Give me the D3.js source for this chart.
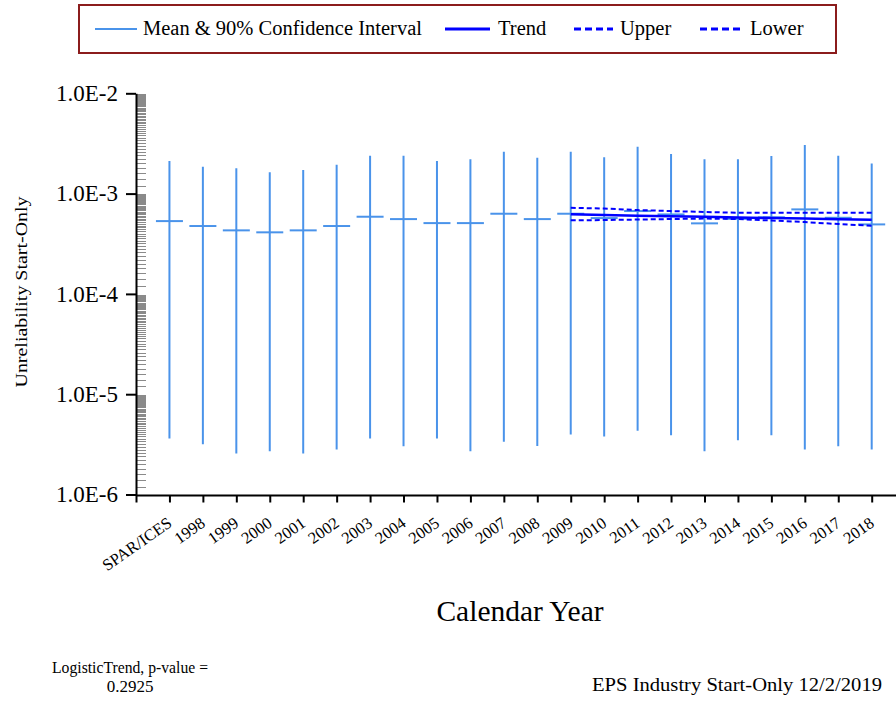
<!DOCTYPE html>
<html>
<head>
<meta charset="utf-8">
<script src="https://cdn.jsdelivr.net/npm/d3@7"></script>
<style>
  body { margin: 0; background: #fff; }
  svg { display: block; }
</style>
</head>
<body>
<div class="container"></div>
<script>
// values
const categories = ["SPAR/ICES", "1998", "1999", "2000", "2001", "2002", "2003", "2004", "2005", "2006", "2007",
                    "2008", "2009", "2010", "2011", "2012", "2013", "2014", "2015", "2016", "2017", "2018"];
const meanVals  = [5.32e-4, 4.75e-4, 4.30e-4, 4.11e-4, 4.30e-4, 4.75e-4, 5.88e-4, 5.57e-4, 5.08e-4, 5.08e-4, 6.30e-4,
                   5.57e-4, 6.30e-4, 5.70e-4, 6.70e-4, 6.20e-4, 5.05e-4, 5.60e-4, 5.80e-4, 6.96e-4, 5.74e-4, 4.93e-4];
const upperCI   = [2.11e-3, 1.85e-3, 1.79e-3, 1.63e-3, 1.72e-3, 1.94e-3, 2.39e-3, 2.39e-3, 2.11e-3, 2.20e-3, 2.62e-3,
                   2.28e-3, 2.62e-3, 2.30e-3, 2.93e-3, 2.48e-3, 2.20e-3, 2.20e-3, 2.37e-3, 3.05e-3, 2.39e-3, 2.00e-3];
const lowerCI   = [3.62e-6, 3.17e-6, 2.56e-6, 2.70e-6, 2.56e-6, 2.81e-6, 3.62e-6, 3.03e-6, 3.62e-6, 2.70e-6, 3.35e-6,
                   3.05e-6, 3.97e-6, 3.79e-6, 4.31e-6, 3.90e-6, 2.70e-6, 3.48e-6, 3.90e-6, 2.81e-6, 3.03e-6, 2.81e-6];

const trendYears = ["2009", "2010", "2011", "2012", "2013", "2014", "2015", "2016", "2017", "2018"];
const trendVals  = [6.21e-4, 6.11e-4, 6.03e-4, 5.95e-4, 5.87e-4, 5.79e-4, 5.71e-4, 5.63e-4, 5.56e-4, 5.48e-4];
const trendUpper = [7.22e-4, 7.09e-4, 6.85e-4, 6.70e-4, 6.55e-4, 6.44e-4, 6.44e-4, 6.44e-4, 6.44e-4, 6.44e-4];
const trendLower = [5.41e-4, 5.45e-4, 5.51e-4, 5.58e-4, 5.64e-4, 5.58e-4, 5.39e-4, 5.20e-4, 4.97e-4, 4.78e-4];

const yTicks = [1e-6, 1e-5, 1e-4, 1e-3, 1e-2];

const width = 896;
const height = 703;
const serif = '"Liberation Serif", "Times New Roman", serif';
const ciColor = "#4a93ea";
const trendColor = "#0000ff";

const svg = d3.select('.container')
    .append('svg')
    .attr('width', width)
    .attr('height', height)
    .attr('font-family', serif);

// scales
const x = d3.scalePoint()
    .domain([""].concat(categories))
    .range([136, 871.7]);

const y = d3.scaleLog()
    .domain([1e-6, 1e-2])
    .range([494.5, 93.3]);

// minor ticks on the inside of the y axis
const minor = [];
for (let k = -6; k < -2; k++) {
    for (let m = 1.2; m < 9.9; m += 0.2) minor.push(m * Math.pow(10, k));
}
svg.append('g')
    .selectAll('line')
    .data(minor)
    .enter()
    .append('line')
    .attr('x1', 137)
    .attr('x2', 146)
    .attr('y1', d => Math.round(y(d)) + 0.5)
    .attr('y2', d => Math.round(y(d)) + 0.5)
    .attr('stroke', '#8a8a8a')
    .attr('stroke-width', 1);

// y axis
const yAxis = svg.append('g')
    .attr('transform', 'translate(136,0)')
    .call(d3.axisLeft(y)
        .tickValues(yTicks)
        .tickSize(10)
        .tickSizeOuter(0)
        .tickPadding(8)
        .tickFormat(d => d.toExponential(1).replace('e', 'E')));
yAxis.attr('font-family', serif);
yAxis.select('.domain').attr('stroke-width', 2);
yAxis.selectAll('.tick line').attr('stroke-width', 2);
yAxis.selectAll('text')
    .attr('font-size', '23px')
    .attr('fill', '#000');

// x axis
const xAxis = svg.append('g')
    .attr('transform', `translate(0,${y(1e-6) + 1})`)
    .call(d3.axisBottom(x).tickSize(7).tickSizeOuter(0).tickPadding(0));
xAxis.attr('font-family', serif);
xAxis.select('.domain').remove();
xAxis.append('line')
    .attr('x1', 136)
    .attr('x2', width)
    .attr('stroke', '#000')
    .attr('stroke-width', 2);
xAxis.selectAll('.tick line').attr('stroke-width', 2);
xAxis.selectAll('text')
    .attr('font-size', '16.5px')
    .attr('fill', '#000')
    .attr('text-anchor', 'end')
    .attr('dy', 0)
    .attr('y', 0)
    .attr('transform', 'translate(3,30) rotate(-35)');

// error bars
const bars = svg.append('g')
    .selectAll('g')
    .data(categories)
    .enter()
    .append('g');

bars.append('line')
    .attr('x1', d => x(d))
    .attr('x2', d => x(d))
    .attr('y1', (d, i) => y(upperCI[i]))
    .attr('y2', (d, i) => y(lowerCI[i]))
    .attr('stroke', ciColor)
    .attr('stroke-width', 2);

bars.append('line')
    .attr('x1', d => x(d) - 13.5)
    .attr('x2', d => x(d) + 13.5)
    .attr('y1', (d, i) => y(meanVals[i]))
    .attr('y2', (d, i) => y(meanVals[i]))
    .attr('stroke', ciColor)
    .attr('stroke-width', 2);

// trend with its bounds
const trendLine = vals => d3.line()
    .x((d, i) => x(trendYears[i]))
    .y(d => y(d))(vals);

svg.append('path')
    .attr('d', trendLine(trendUpper))
    .attr('fill', 'none')
    .attr('stroke', trendColor)
    .attr('stroke-width', 2)
    .attr('stroke-dasharray', '5,3');

svg.append('path')
    .attr('d', trendLine(trendLower))
    .attr('fill', 'none')
    .attr('stroke', trendColor)
    .attr('stroke-width', 2)
    .attr('stroke-dasharray', '5,3');

svg.append('path')
    .attr('d', trendLine(trendVals))
    .attr('fill', 'none')
    .attr('stroke', trendColor)
    .attr('stroke-width', 2.5);

// axis titles
svg.append('text')
    .attr('transform', 'translate(27,292) rotate(-90)')
    .attr('text-anchor', 'middle')
    .attr('font-size', '17px')
    .attr('textLength', 191)
    .attr('lengthAdjust', 'spacingAndGlyphs')
    .text('Unreliability Start-Only');

svg.append('text')
    .attr('x', 520)
    .attr('y', 621)
    .attr('text-anchor', 'middle')
    .attr('font-size', '29.5px')
    .text('Calendar Year');

// legend
const legend = svg.append('g');
legend.append('rect')
    .attr('x', 79)
    .attr('y', 5)
    .attr('width', 757)
    .attr('height', 48)
    .attr('fill', 'none')
    .attr('stroke', '#8b1c1c')
    .attr('stroke-width', 2);

const legendItems = [
    { label: 'Mean & 90% Confidence Interval', x0: 95, x1: 137, tx: 143, color: ciColor, w: 2, dash: null },
    { label: 'Trend', x0: 445, x1: 490, tx: 498, color: trendColor, w: 3, dash: null },
    { label: 'Upper', x0: 574, x1: 613, tx: 620, color: trendColor, w: 3, dash: '7,4' },
    { label: 'Lower', x0: 700, x1: 740, tx: 750, color: trendColor, w: 3, dash: '7,4' }
];
const li = legend.selectAll('.legend-item')
    .data(legendItems)
    .enter()
    .append('g')
    .attr('class', 'legend-item');
li.append('line')
    .attr('x1', d => d.x0)
    .attr('x2', d => d.x1)
    .attr('y1', 29)
    .attr('y2', 29)
    .attr('stroke', d => d.color)
    .attr('stroke-width', d => d.w)
    .attr('stroke-dasharray', d => d.dash);
li.append('text')
    .attr('x', d => d.tx)
    .attr('y', 35)
    .attr('font-size', '20.5px')
    .text(d => d.label);

// footer notes
svg.append('text')
    .attr('x', 130)
    .attr('y', 673)
    .attr('text-anchor', 'middle')
    .attr('font-size', '17px')
    .attr('textLength', 156)
    .attr('lengthAdjust', 'spacingAndGlyphs')
    .text('LogisticTrend, p-value =');

svg.append('text')
    .attr('x', 130)
    .attr('y', 692)
    .attr('text-anchor', 'middle')
    .attr('font-size', '17px')
    .text('0.2925');

svg.append('text')
    .attr('x', 882)
    .attr('y', 691)
    .attr('text-anchor', 'end')
    .attr('font-size', '19px')
    .attr('textLength', 290)
    .attr('lengthAdjust', 'spacingAndGlyphs')
    .text('EPS Industry Start-Only 12/2/2019');
</script>
</body>
</html>
